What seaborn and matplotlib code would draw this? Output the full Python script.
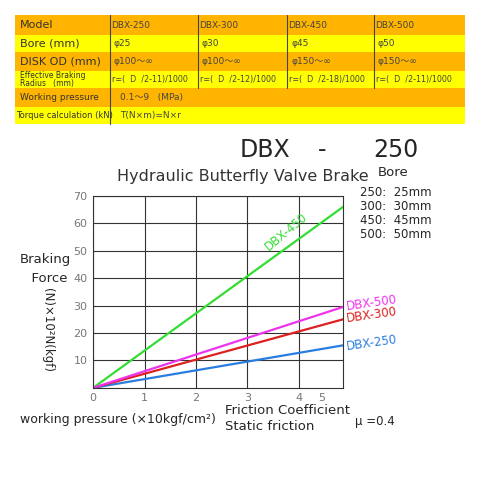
import numpy as np
import pandas as pd
import matplotlib
matplotlib.use("Agg")
import matplotlib.pyplot as plt
import seaborn as sns

# Data
models = ["DBX-250", "DBX-300", "DBX-450", "DBX-500"]
pressure = [0.0, 4.86]
force_250 = [0.0, 15.5]
force_300 = [0.0, 25.0]
force_450 = [0.0, 66.0]
force_500 = [0.0, 29.5]
bore = ["φ25", "φ30", "φ45", "φ50"]
disk_od = ["φ100～∞", "φ100～∞", "φ150～∞", "φ150～∞"]
radius = ["r=(  D  /2-11)/1000", "r=(  D  /2-12)/1000", "r=(  D  /2-18)/1000", "r=(  D  /2-11)/1000"]
bore_list = ["250:  25mm", "300:  30mm", "450:  45mm", "500:  50mm"]

sns.set_theme(style="white")
plt.rcParams['font.family'] = ['DejaVu Sans', 'Noto Sans CJK SC']

fig = plt.figure(figsize=(4.8, 4.8), dpi=100)

# ---- table on top (pixel coords) ----
tab = fig.add_axes([0, 0, 1, 1])
tab.set_xlim(0, 480)
tab.set_ylim(480, 0)
tab.axis("off")
orange, yellow = "#ffb400", "#ffff00"
row_edges = [15, 35, 52, 71, 88, 107, 124]
row_cols = [orange, yellow, orange, yellow, orange, yellow]
for i in range(6):
    tab.fill_between([15, 465], row_edges[i], row_edges[i + 1], color=row_cols[i], lw=0)
for xs, y0, y1 in [(110, 15, 124), (198, 15, 88), (287, 15, 88), (374, 15, 88)]:
    tab.plot([xs, xs], [y0, y1], color="#444444", lw=0.8)
heads = ["Model", "Bore (mm)", "DISK OD (mm)", "", "Working pressure", "Torque calculation (kN)"]
sizes = [8, 8, 8, 6, 6.5, 6]
for i, h in enumerate(heads):
    tab.text(20 if i < 5 else 16, (row_edges[i] + row_edges[i + 1]) / 2, h, fontsize=sizes[i], va="center", color="#333333")
tab.text(20, 79.5, "Effective Braking\nRadius   (mm)", fontsize=5.5, va="center", color="#333333", linespacing=0.9)
colx = [111, 199, 288, 375]
for j in range(4):
    tab.text(colx[j], 25, models[j], fontsize=6.5, va="center", color="#444444")
    tab.text(colx[j] + 3, 43.5, bore[j], fontsize=6.5, va="center", color="#444444")
    tab.text(colx[j] + 3, 61.5, disk_od[j], fontsize=6.5, va="center", color="#444444")
    tab.text(colx[j] + 1, 79.5, radius[j], fontsize=5.8, va="center", color="#444444")
tab.text(120, 97.5, "0.1～9   (MPa)", fontsize=6.5, va="center", color="#444444")
tab.text(120, 115.5, "T(N×m)=N×r", fontsize=6.5, va="center", color="#444444")

# titles and side texts
tab.text(240, 150, "DBX", fontsize=17, va="center")
tab.text(318, 150, "-", fontsize=17, va="center")
tab.text(373, 150, "250", fontsize=17, va="center")
tab.text(117, 177, "Hydraulic Butterfly Valve Brake", fontsize=11.5, va="center", color="#333333")
tab.text(378, 173, "Bore", fontsize=9.5, va="center")
for k, s in enumerate(bore_list):
    tab.text(360, 192 + k * 14.3, s, fontsize=8.5, va="center")
tab.text(45, 269, "Braking\n  Force", fontsize=9.5, va="center", ha="center", linespacing=1.5)
tab.text(47, 330, "(N)×10²N(kgf)", fontsize=8.5, va="center", ha="center", rotation=-90)
tab.text(20, 420, "working pressure (×10kgf/cm²)", fontsize=9, va="center")
tab.text(225, 419, "Friction Coefficient\nStatic friction", fontsize=9.5, va="center", linespacing=1.3)
tab.text(355, 421, "μ =0.4", fontsize=8.5, va="center")

# ---- chart ----
ax = fig.add_axes([0.194, 0.192, 0.521, 0.4])
df = pd.DataFrame({
    "pressure": pressure * 4,
    "force": force_250 + force_300 + force_450 + force_500,
    "model": sum([[m] * 2 for m in models], []),
})
palette = {"DBX-250": "#2a7de0", "DBX-300": "#dd2020", "DBX-450": "#33dd33", "DBX-500": "#ee33ee"}
sns.lineplot(data=df, x="pressure", y="force", hue="model", palette=palette, ax=ax, legend=False, lw=1.6)
ax.set_xlim(0, 4.86)
ax.set_ylim(0, 68)
ax.set_xticks([0, 1, 2, 3, 4])
ax.set_xticks([4.45], minor=True)
ax.set_xticklabels(["5"], minor=True)
ax.set_yticks([10, 20, 30, 40, 50, 60, 70])
ax.grid(True, which="major", color="#333333", lw=0.8)
ax.set_axisbelow(True)
ax.tick_params(which="both", labelsize=8, colors="#777777", length=0, pad=4)
for sp in ax.spines.values():
    sp.set_color("#333333")
    sp.set_linewidth(0.8)
ax.set_xlabel("")
ax.set_ylabel("")
ax.text(3.75, 57, "DBX-450", color="#33dd33", fontsize=8.5, rotation=40, ha="center", va="center")
for m, yv in [("DBX-500", 31), ("DBX-300", 26.5), ("DBX-250", 16.5)]:
    ax.text(4.9, yv, m, color=palette[m], fontsize=8.5, va="center", rotation=8, clip_on=False)

fig.savefig("out.png", dpi=100)
